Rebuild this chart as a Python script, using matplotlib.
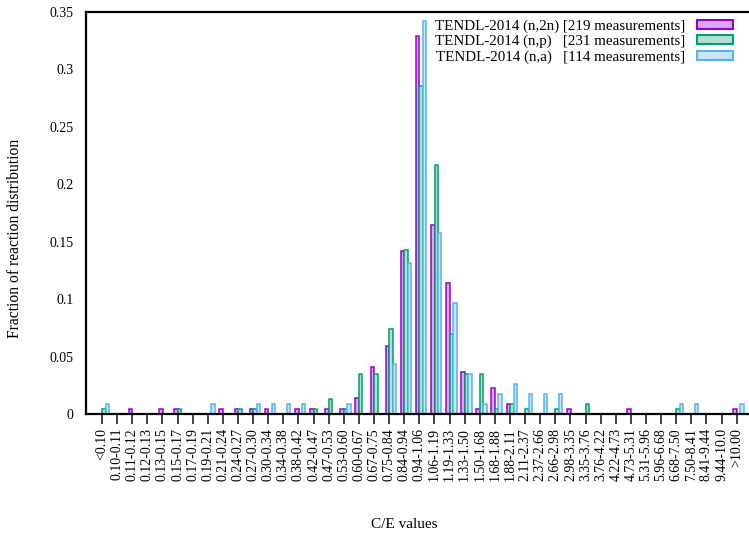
import numpy as np
import matplotlib
matplotlib.use("Agg")
import matplotlib.pyplot as plt
from matplotlib.patches import Patch

plt.rcParams['font.family'] = ['Liberation Serif', 'DejaVu Serif']

# C/E bins
bins = ["<0.10", "0.10-0.11", "0.11-0.12", "0.12-0.13", "0.13-0.15", "0.15-0.17",
        "0.17-0.19", "0.19-0.21", "0.21-0.24", "0.24-0.27", "0.27-0.30", "0.30-0.34",
        "0.34-0.38", "0.38-0.42", "0.42-0.47", "0.47-0.53", "0.53-0.60", "0.60-0.67",
        "0.67-0.75", "0.75-0.84", "0.84-0.94", "0.94-1.06", "1.06-1.19", "1.19-1.33",
        "1.33-1.50", "1.50-1.68", "1.68-1.88", "1.88-2.11", "2.11-2.37", "2.37-2.66",
        "2.66-2.98", "2.98-3.35", "3.35-3.76", "3.76-4.22", "4.22-4.73", "4.73-5.31",
        "5.31-5.96", "5.96-6.68", "6.68-7.50", "7.50-8.41", "8.41-9.44", "9.44-10.0",
        ">10.00"]

# number of measurements per bin
n2n_counts = [0, 0, 1, 0, 1, 1, 0, 0, 1, 1, 1, 1, 0, 1, 1, 1, 1, 3, 9, 13, 31, 72,
              36, 25, 8, 1, 5, 2, 0, 0, 0, 1, 0, 0, 0, 1, 0, 0, 0, 0, 0, 0, 1]
np_counts = [1, 0, 0, 0, 0, 1, 0, 0, 0, 1, 1, 0, 0, 0, 1, 3, 1, 8, 8, 17, 33, 66,
             50, 16, 8, 8, 1, 2, 1, 0, 1, 0, 2, 0, 0, 0, 0, 0, 1, 0, 0, 0, 0]
na_counts = [1, 0, 0, 0, 0, 0, 0, 1, 0, 0, 1, 1, 1, 1, 0, 0, 1, 0, 0, 5, 15, 39,
             18, 11, 4, 1, 2, 3, 2, 2, 2, 0, 0, 0, 0, 0, 0, 0, 1, 1, 0, 0, 1]

n_meas = [219, 231, 114]
labels = ["TENDL-2014 (n,2n) [219 measurements]",
          "TENDL-2014 (n,p)   [231 measurements]",
          "TENDL-2014 (n,a)   [114 measurements]"]
edge_colors = ["#9400d3", "#009e73", "#56b4e9"]
fill_colors = ["#dba8f0", "#b0e0d2", "#c8e6f8"]

W, H = 749, 534
fig = plt.figure(figsize=(W / 100, H / 100), dpi=100)
left, right, top, bottom = 86, 751, 12, 414
ax = fig.add_axes([left / W, 1 - bottom / H, (right - left) / W, (bottom - top) / H])

x = np.arange(len(bins))
offsets = [-0.11, 0.12, 0.35]
width = 0.23
for counts, n, off, ec, fc, lab in zip([n2n_counts, np_counts, na_counts], n_meas,
                                       offsets, edge_colors, fill_colors, labels):
    frac = np.array(counts) / n
    ax.bar(x + off, frac, width=width, color=fc, edgecolor=ec, linewidth=1.1,
           label=lab, zorder=2)

ax.set_xlim(-1.06, len(bins) - 1 + 0.95)
ax.set_ylim(0, 0.35)
ax.set_yticks(np.arange(0, 0.351, 0.05))
ax.set_yticklabels(["0", "0.05", "0.1", "0.15", "0.2", "0.25", "0.3", "0.35"])
ax.tick_params(axis='y', length=0, labelsize=10, pad=9)
ax.set_xticks(x)
ax.set_xticklabels(bins, rotation=90)
ax.tick_params(axis='x', direction='out', length=7, width=1.3, color='#333333',
               labelsize=10, pad=3)

for side in ['left', 'top', 'bottom']:
    ax.spines[side].set_linewidth(1.6)
ax.spines['right'].set_visible(False)

handles = [Patch(facecolor=fc, edgecolor=ec, linewidth=1.5)
           for ec, fc in zip(edge_colors, fill_colors)]
ax.legend(handles, labels, loc='upper right', bbox_to_anchor=(0.993, 1.016),
          frameon=False, markerfirst=False, fontsize=10.8, handlelength=2.4,
          handleheight=0.55, labelspacing=0.14, handletextpad=0.75)

fig.text(15 / W, 1 - 238 / H, "Fraction of reaction distribution", rotation=90,
         ha='center', va='center', fontsize=11.2)
fig.text(404 / W, 1 - 524 / H, "C/E values", ha='center', va='center', fontsize=11)

fig.savefig("out.png", dpi=100)
